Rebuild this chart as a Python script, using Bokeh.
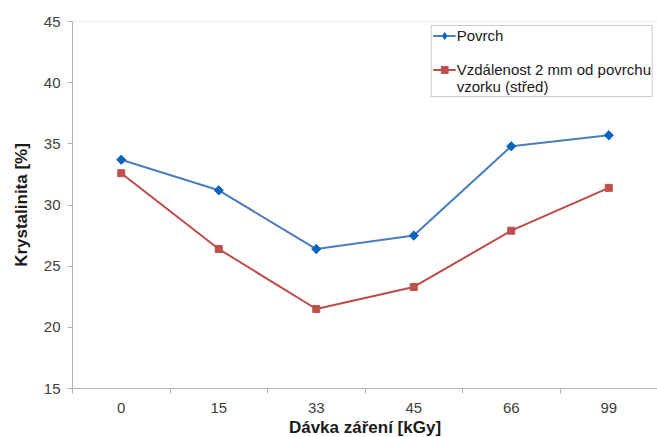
import math
from bokeh.plotting import figure
from bokeh.models import Range1d, FixedTicker, Legend, LegendItem, Span
from bokeh.embed import file_html
from bokeh.resources import INLINE

categories = ["0", "15", "33", "45", "66", "99"]
povrch = [33.7, 31.2, 26.4, 27.5, 34.8, 35.7]
stred = [32.6, 26.4, 21.5, 23.3, 27.9, 31.4]
y_ticks = [15, 20, 25, 30, 35, 40, 45]
label_povrch = "Povrch"
label_stred_lines = ["Vzdálenost 2 mm od povrchu", "vzorku (střed)"]
x_title = "Dávka záření [kGy]"
y_title = "Krystalinita [%]"

FONT = "Liberation Sans"
BLUE_LINE = "#4a7ebb"
BLUE_MARK = "#0a64c0"
RED_LINE = "#be4b48"
RED_MARK = "#c0504d"
xs = [i + 0.5 for i in range(len(categories))]

p = figure(frame_width=585, frame_height=367,
           x_range=Range1d(0, len(categories)), y_range=Range1d(y_ticks[0], y_ticks[-1]),
           output_backend="svg", toolbar_location=None,
           min_border_left=72, min_border_right=0, min_border_top=21, min_border_bottom=49)
p.outline_line_color = None
p.xgrid.visible = False
p.ygrid.visible = False
p.background_fill_color = "white"

p.add_layout(Span(location=y_ticks[-1], dimension="width", line_color="#d9d9d9", line_width=1))

b_line = p.line(xs, povrch, line_color=BLUE_LINE, line_width=2)
b_dia = p.scatter(xs, povrch, marker="diamond", size=8.5,
                  fill_color=BLUE_MARK, line_color=BLUE_MARK)
b_mark = p.scatter(xs, povrch, marker="square", angle=math.pi / 4, size=6.5,
                   fill_color=BLUE_MARK, line_color=BLUE_MARK)
r_line = p.line(xs, stred, line_color=RED_LINE, line_width=2)
r_mark = p.scatter(xs, stred, marker="square", size=7,
                   fill_color=RED_MARK, line_color=RED_MARK)
dummy1 = p.line([], [], line_alpha=0)
dummy2 = p.line([], [], line_alpha=0)

# axes
xa = p.xaxis[0]
xa.ticker = FixedTicker(ticks=xs, minor_ticks=list(range(len(categories) + 1)))
xa.major_label_overrides = {x: c for x, c in zip(xs, categories)}
xa.major_tick_out = 0
xa.major_tick_in = 0
xa.minor_tick_out = 5
xa.minor_tick_in = 0
xa.minor_tick_line_color = "#b3b3b3"
xa.axis_line_color = "#b3b3b3"
xa.major_label_standoff = 9
xa.axis_label = x_title
xa.axis_label_standoff = 2

ya = p.yaxis[0]
ya.ticker = FixedTicker(ticks=y_ticks, minor_ticks=[])
ya.major_tick_out = 5
ya.major_tick_in = 0
ya.major_tick_line_color = "#b3b3b3"
ya.axis_line_color = "#b3b3b3"
ya.minor_tick_line_color = None
ya.major_label_standoff = 7
ya.axis_label = y_title
ya.axis_label_standoff = 10

for ax in (xa, ya):
    ax.major_label_text_font = FONT
    ax.major_label_text_font_size = "15px"
    ax.major_label_text_color = "#404040"
    ax.axis_label_text_font = FONT
    ax.axis_label_text_font_size = "17px"
    ax.axis_label_text_font_style = "bold"
    ax.axis_label_text_color = "#1a1a1a"

legend = Legend(items=[
    LegendItem(label=label_povrch, renderers=[b_line, b_dia]),
    LegendItem(label=" ", renderers=[dummy1]),
    LegendItem(label=label_stred_lines[0], renderers=[r_line, r_mark]),
    LegendItem(label=label_stred_lines[1], renderers=[dummy2]),
], location="top_right")
legend.padding = 1
legend.spacing = 0
legend.margin = 4
legend.label_height = 17
legend.glyph_height = 17
legend.glyph_width = 23
legend.label_standoff = 1
legend.label_text_font = FONT
legend.label_text_font_size = "15px"
legend.label_text_color = "#1a1a1a"
legend.border_line_color = "#999999"
legend.border_line_width = 1
legend.background_fill_alpha = 1
p.add_layout(legend, "center")

open("out.html", "w").write(file_html(p, INLINE))
